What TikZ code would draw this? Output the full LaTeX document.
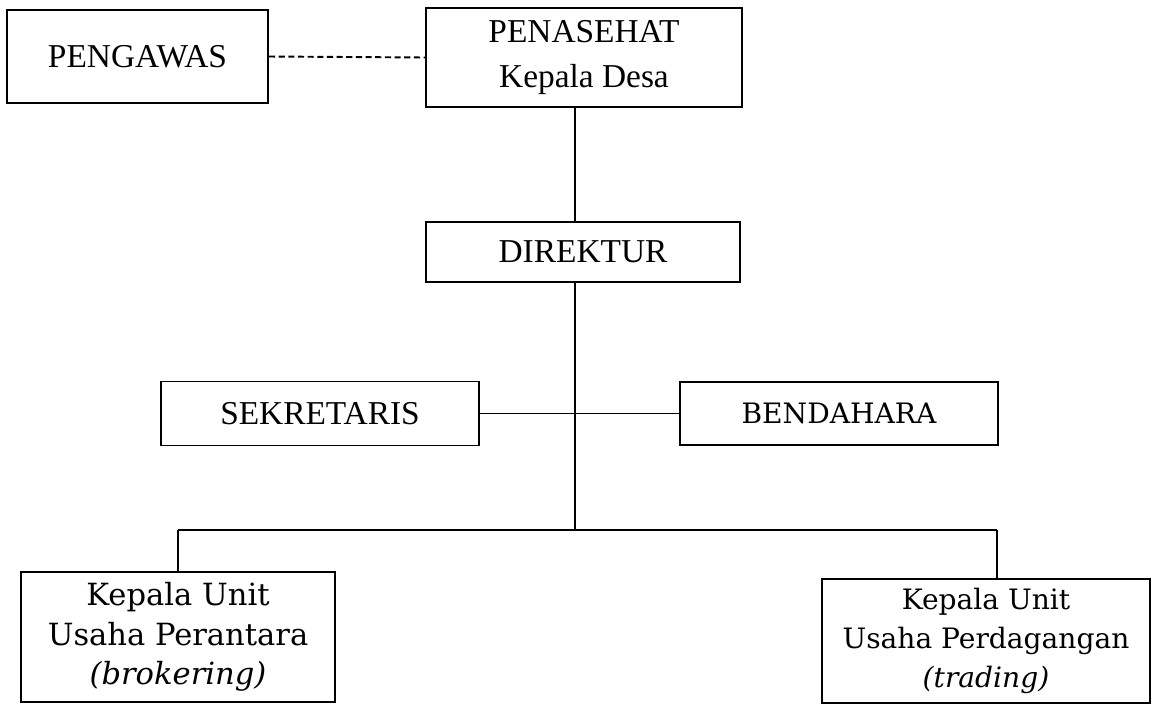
\documentclass[tikz,border=0pt]{standalone}
\usepackage{fontspec}
\setmainfont{Liberation Serif}
\newfontfamily\unitfont{DejaVu Serif}

\begin{document}
\begin{tikzpicture}[x=0.02cm, y=-0.02cm, line width=1.1pt,
		box/.style={draw, line width=1.1pt, align=center, inner sep=0pt, font=\fontsize{19}{26}\selectfont},
		unitbox/.style={box, font=\unitfont\fontsize{16}{22}\selectfont}]
			\useasboundingbox (0,0) rectangle (1161,704);

			\node [box, minimum width=5.22cm, minimum height=1.86cm] (pengawas) at (137.5,56.5) {PENGAWAS};
			\node [box, minimum width=6.32cm, minimum height=1.98cm] (penasehat) at (584,57.5) {PENASEHAT\\Kepala Desa};
			\node [box, minimum width=6.28cm, minimum height=1.2cm] (direktur) at (583,252) {DIREKTUR};
			\node [box, minimum width=6.36cm, minimum height=1.28cm] (sekretaris) at (320,413.5) {SEKRETARIS};
			\node [unitbox, minimum width=6.36cm, minimum height=1.26cm] (bendahara) at (839,413.5) {BENDAHARA};
			\node [unitbox, font=\unitfont\fontsize{17.4}{22.5}\selectfont, minimum width=6.28cm, minimum height=2.6cm] (perantara) at (178,637) {Kepala Unit\\Usaha Perantara\\\textit{(brokering)}};
			\node [unitbox, minimum width=6.56cm, minimum height=2.48cm] (perdagangan) at (986,641) {Kepala Unit\\Usaha Perdagangan\\\textit{(trading)}};

			\coordinate (hub) at (575,530);
			\coordinate (branchL) at (178,530);
			\coordinate (branchR) at (997,530);

			\draw [dash pattern=on 3.5pt off 2pt] (pengawas.east) -- (penasehat.west);
			\draw (penasehat.south -| hub) -- (direktur.north -| hub);
			\draw (direktur.south -| hub) -- (hub);
			\draw (sekretaris.east) -- (bendahara.west);
			\draw (branchL) -- (branchR);
			\draw (branchL) -- (perantara.north);
			\draw (branchR) -- (branchR |- perdagangan.north);
		\end{tikzpicture}
\end{document}
